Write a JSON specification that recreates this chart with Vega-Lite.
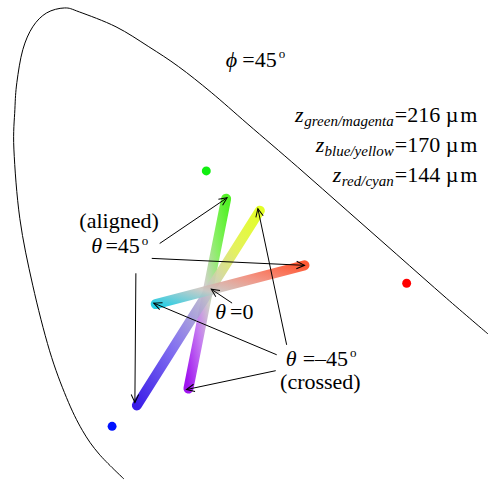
{
  "$schema": "https://vega.github.io/schema/vega-lite/v6.json",
  "width": 490,
  "height": 481,
  "autosize": {"type": "fit", "contains": "padding"},
  "padding": 0,
  "background": "white",
  "config": {"view": {"stroke": null}},
  "encoding": {
    "x": {"field": "x", "type": "quantitative", "scale": {"domain": [0, 490], "nice": false, "zero": false}, "axis": null},
    "y": {"field": "y", "type": "quantitative", "scale": {"domain": [0, 481], "nice": false, "zero": false, "reverse": true}, "axis": null}
  },
  "layer": [
    {
      "data": {"values": [
        {"i": 0, "x": 125, "y": 482}, {"i": 1, "x": 100, "y": 457}, {"i": 2, "x": 83, "y": 433},
        {"i": 3, "x": 67, "y": 400}, {"i": 4, "x": 50, "y": 353}, {"i": 5, "x": 33, "y": 287},
        {"i": 6, "x": 20, "y": 220}, {"i": 7, "x": 14, "y": 150}, {"i": 8, "x": 15, "y": 110},
        {"i": 9, "x": 17, "y": 83}, {"i": 10, "x": 23, "y": 50}, {"i": 11, "x": 33, "y": 27},
        {"i": 12, "x": 47, "y": 13}, {"i": 13, "x": 65, "y": 8}, {"i": 14, "x": 80, "y": 12},
        {"i": 15, "x": 117, "y": 27}, {"i": 16, "x": 150, "y": 47}, {"i": 17, "x": 180, "y": 67},
        {"i": 18, "x": 213, "y": 93}, {"i": 19, "x": 250, "y": 125}, {"i": 20, "x": 300, "y": 168},
        {"i": 21, "x": 350, "y": 212}, {"i": 22, "x": 400, "y": 256}, {"i": 23, "x": 450, "y": 300},
        {"i": 24, "x": 492, "y": 336}
      ]},
      "mark": {"type": "line", "interpolate": "cardinal", "color": "black", "strokeWidth": 1},
      "encoding": {"order": {"field": "i", "type": "quantitative"}}
    },
    {
      "data": {"values": [{"x": 208, "y": 172, "c": "green"}, {"x": 410, "y": 285, "c": "red"}, {"x": 113, "y": 429, "c": "blue"}]},
      "mark": {"type": "circle", "size": 80, "opacity": 1},
      "encoding": {"color": {"field": "c", "type": "nominal", "scale": {"domain": ["green", "red", "blue"], "range": ["#11ee11", "#ff0000", "#0011ff"]}, "legend": null}}
    },
    {
      "data": {"values": [{"x": 228, "y": 200}, {"x": 190, "y": 391}]},
      "mark": {"type": "line", "strokeWidth": 10, "strokeCap": "round", "opacity": 0.92,
        "stroke": {"gradient": "linear", "x1": 1, "y1": 0, "x2": 0, "y2": 1,
          "stops": [{"offset": 0, "color": "#44f014"}, {"offset": 0.25, "color": "#80ee58"}, {"offset": 0.5, "color": "#cccdc4"},
                    {"offset": 0.72, "color": "#c070f0"}, {"offset": 1, "color": "#9800ee"}]}}
    },
    {
      "data": {"values": [{"x": 262, "y": 212}, {"x": 138, "y": 408}]},
      "mark": {"type": "line", "strokeWidth": 10, "strokeCap": "round", "opacity": 0.92,
        "stroke": {"gradient": "linear", "x1": 1, "y1": 0, "x2": 0, "y2": 1,
          "stops": [{"offset": 0, "color": "#e0ff14"}, {"offset": 0.2, "color": "#e2f050"}, {"offset": 0.4, "color": "#c8c8c4"},
                    {"offset": 0.7, "color": "#7a66ee"}, {"offset": 1, "color": "#2a0ae6"}]}}
    },
    {
      "data": {"values": [{"x": 307, "y": 267}, {"x": 157, "y": 306}]},
      "mark": {"type": "line", "strokeWidth": 10, "strokeCap": "round", "opacity": 0.92,
        "stroke": {"gradient": "linear", "x1": 1, "y1": 0, "x2": 0, "y2": 1,
          "stops": [{"offset": 0, "color": "#ff4a22"}, {"offset": 0.33, "color": "#f28a78"}, {"offset": 0.66, "color": "#c8c8c4"},
                    {"offset": 1, "color": "#18cae2"}]}}
    },
    {
      "data": {"name": "arrows", "values": [
        {"x": 229, "y": 199, "tx": 161, "ty": 245},
        {"x": 307, "y": 267, "tx": 153, "ty": 260},
        {"x": 136, "y": 405, "tx": 137, "ty": 275},
        {"x": 213, "y": 291, "tx": 234, "ty": 305},
        {"x": 260, "y": 210, "tx": 289, "ty": 347},
        {"x": 155, "y": 305, "tx": 279, "ty": 357},
        {"x": 188, "y": 392, "tx": 278, "ty": 373}
      ]},
      "mark": {"type": "rule", "color": "black", "strokeWidth": 1},
      "encoding": {"x2": {"field": "tx"}, "y2": {"field": "ty"}}
    },
    {
      "data": {"name": "arrows"},
      "transform": [{"calculate": "atan2(datum.y - datum.ty, datum.x - datum.tx) * 180 / PI", "as": "ang"}],
      "mark": {"type": "point", "shape": "M-1.6,-0.75L0,0L-1.6,0.75", "filled": false, "stroke": "black", "strokeWidth": 1, "size": 100, "opacity": 1},
      "encoding": {"angle": {"field": "ang", "type": "quantitative", "scale": null}}
    },
    {
      "data": {"values": [
        {"x": 398, "y": 123, "t": "=216 µ\u200am"},
        {"x": 398, "y": 153, "t": "=170 µ\u200am"},
        {"x": 398, "y": 183, "t": "=144 µ\u200am"},
        {"x": 232, "y": 321, "t": "=0"}
      ]},
      "mark": {"type": "text", "font": "Liberation Serif", "fontSize": 22, "align": "left", "baseline": "alphabetic", "color": "black"},
      "encoding": {"text": {"field": "t"}}
    },
    {
      "data": {"values": [
        {"x": 279, "y": 67, "t": "=45"},
        {"x": 141, "y": 255, "t": "=45"},
        {"x": 351, "y": 368, "t": "=–45"}
      ]},
      "mark": {"type": "text", "font": "Liberation Serif", "fontSize": 22, "align": "right", "baseline": "alphabetic", "color": "black"},
      "encoding": {"text": {"field": "t"}}
    },
    {
      "data": {"values": [
        {"x": 120, "y": 229, "t": "(aligned)"},
        {"x": 323, "y": 391, "t": "(crossed)"}
      ]},
      "mark": {"type": "text", "font": "Liberation Serif", "fontSize": 22, "align": "center", "baseline": "alphabetic", "color": "black"},
      "encoding": {"text": {"field": "t"}}
    },
    {
      "data": {"values": [
        {"x": 239, "y": 67, "t": "ϕ"},
        {"x": 103, "y": 255, "t": "θ"},
        {"x": 228, "y": 321, "t": "θ"},
        {"x": 299, "y": 368, "t": "θ"},
        {"x": 306, "y": 123, "t": "z"},
        {"x": 327, "y": 153, "t": "z"},
        {"x": 344, "y": 183, "t": "z"}
      ]},
      "mark": {"type": "text", "font": "Liberation Serif, DejaVu Serif", "fontStyle": "italic", "fontSize": 22, "align": "right", "baseline": "alphabetic", "color": "black"},
      "encoding": {"text": {"field": "t"}}
    },
    {
      "data": {"values": [
        {"x": 397, "y": 127, "t": "green/magenta"},
        {"x": 397, "y": 157, "t": "blue/yellow"},
        {"x": 397, "y": 187, "t": "red/cyan"}
      ]},
      "mark": {"type": "text", "font": "Liberation Serif", "fontStyle": "italic", "fontSize": 15, "align": "right", "baseline": "alphabetic", "color": "black"},
      "encoding": {"text": {"field": "t"}}
    },
    {
      "data": {"values": [
        {"x": 281, "y": 58, "t": "o"},
        {"x": 143, "y": 247, "t": "o"},
        {"x": 353, "y": 359, "t": "o"}
      ]},
      "mark": {"type": "text", "font": "Liberation Serif", "fontSize": 13, "align": "left", "baseline": "alphabetic", "color": "black"},
      "encoding": {"text": {"field": "t"}}
    }
  ]
}
